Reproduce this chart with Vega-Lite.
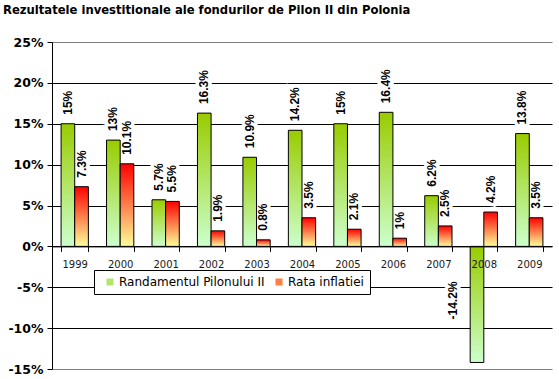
{
  "$schema": "https://vega.github.io/schema/vega-lite/v6.json",
  "width": 500,
  "height": 327,
  "autosize": {"type": "none"},
  "padding": {"left": 52, "top": 42, "right": 7, "bottom": 10},
  "background": "white",
  "title": {
    "text": "Rezultatele investitionale ale fondurilor de Pilon II din Polonia",
    "anchor": "start",
    "frame": "group",
    "font": "DejaVu Sans",
    "fontSize": 11.6,
    "fontWeight": "bold",
    "color": "black",
    "baseline": "alphabetic",
    "dx": -49,
    "offset": 10
  },
  "config": {"view": {"stroke": null}},
  "data": {
    "values": [
      {"year": "1999", "series": "Randamentul Pilonului II", "value": 15},
      {"year": "1999", "series": "Rata inflatiei", "value": 7.3},
      {"year": "2000", "series": "Randamentul Pilonului II", "value": 13},
      {"year": "2000", "series": "Rata inflatiei", "value": 10.1},
      {"year": "2001", "series": "Randamentul Pilonului II", "value": 5.7},
      {"year": "2001", "series": "Rata inflatiei", "value": 5.5},
      {"year": "2002", "series": "Randamentul Pilonului II", "value": 16.3},
      {"year": "2002", "series": "Rata inflatiei", "value": 1.9},
      {"year": "2003", "series": "Randamentul Pilonului II", "value": 10.9},
      {"year": "2003", "series": "Rata inflatiei", "value": 0.8},
      {"year": "2004", "series": "Randamentul Pilonului II", "value": 14.2},
      {"year": "2004", "series": "Rata inflatiei", "value": 3.5},
      {"year": "2005", "series": "Randamentul Pilonului II", "value": 15},
      {"year": "2005", "series": "Rata inflatiei", "value": 2.1},
      {"year": "2006", "series": "Randamentul Pilonului II", "value": 16.4},
      {"year": "2006", "series": "Rata inflatiei", "value": 1},
      {"year": "2007", "series": "Randamentul Pilonului II", "value": 6.2},
      {"year": "2007", "series": "Rata inflatiei", "value": 2.5},
      {"year": "2008", "series": "Randamentul Pilonului II", "value": -14.2},
      {"year": "2008", "series": "Rata inflatiei", "value": 4.2},
      {"year": "2009", "series": "Randamentul Pilonului II", "value": 13.8},
      {"year": "2009", "series": "Rata inflatiei", "value": 3.5}
    ]
  },
  "transform": [{"calculate": "datum.value + '%'", "as": "label"}],
  "encoding": {
    "x": {
      "field": "year",
      "type": "nominal",
      "scale": {"paddingInner": 0.4, "paddingOuter": 0.2},
      "axis": {
        "title": null,
        "labelAngle": 0,
        "offset": -122.6,
        "tickBand": "extent",
        "tickSize": 5,
        "domainColor": "black",
        "tickColor": "black",
        "labelFont": "DejaVu Sans",
        "labelFontSize": 10,
        "labelColor": "#1a1a1a",
        "labelPadding": 8,
        "grid": false,
        "zindex": 1
      }
    },
    "xOffset": {
      "field": "series",
      "type": "nominal",
      "scale": {"paddingInner": 0, "paddingOuter": 0}
    },
    "y": {
      "field": "value",
      "type": "quantitative",
      "scale": {"domain": [-15, 25], "nice": false},
      "axis": {
        "title": null,
        "values": [-15, -10, -5, 0, 5, 10, 15, 20, 25],
        "labelExpr": "datum.value + '%'",
        "grid": true,
        "gridColor": {"condition": {"test": "datum.value === 25 || datum.value === -15", "value": "#808080"}, "value": "black"},
        "gridOpacity": 1,
        "domainColor": "black",
        "tickColor": "black",
        "tickSize": 5,
        "labelFont": "DejaVu Sans",
        "labelFontWeight": "bold",
        "labelFontSize": 12.5,
        "labelColor": "black",
        "labelPadding": 4
      }
    }
  },
  "layer": [
    {
      "transform": [{"filter": "datum.value >= 0"}],
      "mark": {"type": "text", "angle": 270, "align": "left", "baseline": "middle", "dx": 9, "font": "Liberation Sans", "fontSize": 12, "fontWeight": "bold", "fill": "white", "stroke": "white", "strokeWidth": 7},
      "encoding": {"text": {"field": "label"}}
    },
    {
      "transform": [{"filter": "datum.value < 0"}],
      "mark": {"type": "text", "angle": 270, "align": "center", "baseline": "middle", "dx": 62, "dy": -24, "font": "Liberation Sans", "fontSize": 12, "fontWeight": "bold", "fill": "white", "stroke": "white", "strokeWidth": 7},
      "encoding": {"text": {"field": "label"}}
    },
    {
      "transform": [{"filter": "datum.series === 'Randamentul Pilonului II'"}],
      "mark": {
        "type": "bar", "stroke": "black", "strokeWidth": 1,
        "fill": {"gradient": "linear", "x1": 0, "y1": 0, "x2": 0, "y2": 1, "stops": [{"offset": 0, "color": "#99cc00"}, {"offset": 1, "color": "#ccffcc"}]}
      },
      "encoding": {
        "y2": {"datum": 0},
        "color": {
          "field": "series",
          "type": "nominal",
          "scale": {"domain": ["Randamentul Pilonului II", "Rata inflatiei"], "range": ["#b3e666", "#ff8040"]},
          "legend": {
            "title": null,
            "orient": "none",
            "legendX": 42,
            "legendY": 228,
            "direction": "horizontal",
            "strokeColor": "black",
            "fillColor": "white",
            "padding": 6,
            "symbolType": "square",
            "symbolSize": 49,
            "symbolFillColor": "#b3e666",
            "symbolStrokeColor": "black",
            "symbolStrokeWidth": 1,
            "symbolOpacity": 1,
            "symbolOffset": 4,
            "columnPadding": 4,
            "labelOffset": 3,
            "labelLimit": 300,
            "labelFont": "DejaVu Sans",
            "labelFontSize": 12,
            "labelColor": "black",
            "encode": {
              "symbols": {
                "update": {
                  "fill": [
                    {"test": "datum.value === 'Rata inflatiei'", "value": {"gradient": "linear", "x1": 0, "y1": 0, "x2": 0, "y2": 1, "stops": [{"offset": 0, "color": "#ff0000"}, {"offset": 1, "color": "#ffff99"}]}},
                    {"value": {"gradient": "linear", "x1": 0, "y1": 0, "x2": 0, "y2": 1, "stops": [{"offset": 0, "color": "#99cc00"}, {"offset": 1, "color": "#ccffcc"}]}}
                  ]
                }
              }
            }
          }
        }
      }
    },
    {
      "transform": [{"filter": "datum.series === 'Rata inflatiei'"}],
      "mark": {
        "type": "bar", "stroke": "black", "strokeWidth": 1,
        "fill": {"gradient": "linear", "x1": 0, "y1": 0, "x2": 0, "y2": 1, "stops": [{"offset": 0, "color": "#ff0000"}, {"offset": 1, "color": "#ffff99"}]}
      },
      "encoding": {
        "y2": {"datum": 0},
        "color": {"field": "series", "type": "nominal"}
      }
    },
    {
      "transform": [{"filter": "datum.value >= 0"}],
      "mark": {"type": "text", "angle": 270, "align": "left", "baseline": "middle", "dx": 9, "font": "Liberation Sans", "fontSize": 12, "fontWeight": "bold", "color": "black"},
      "encoding": {"text": {"field": "label"}}
    },
    {
      "transform": [{"filter": "datum.value < 0"}],
      "mark": {"type": "text", "angle": 270, "align": "center", "baseline": "middle", "dx": 62, "dy": -24, "font": "Liberation Sans", "fontSize": 12, "fontWeight": "bold", "color": "black"},
      "encoding": {"text": {"field": "label"}}
    }
  ]
}
